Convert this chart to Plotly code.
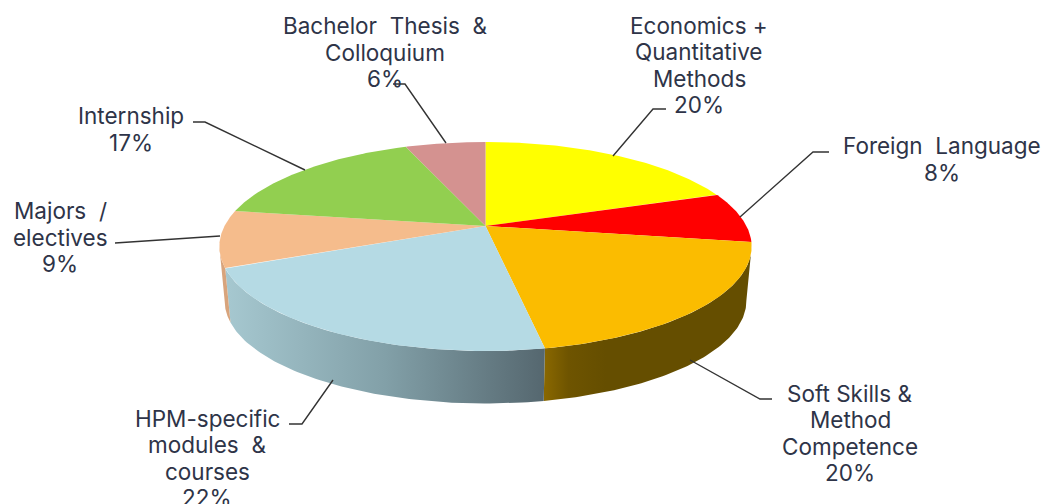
import numpy as np
import plotly.graph_objects as go

categories = ["Economics +<br>Quantitative<br>Methods", "Foreign  Language", "Soft Skills &<br>Method<br>Competence",
              "HPM-specific<br>modules  &<br>courses", "Majors  /<br>electives", "Internship",
              "Bachelor  Thesis  &<br>Colloquium"]
values = [20, 8, 20, 22, 9, 17, 6]
top_colors = ["#FFFF00", "#FF0000", "#FBBC00", "#B5DAE4", "#F5BC8C", "#92CF50", "#D49290"]
side_scales = [
    [[0, "#999900"], [1, "#999900"]],
    [[0, "#990000"], [1, "#990000"]],
    [[0, "#8A6800"], [0.12, "#6E5400"], [0.3, "#654E00"], [1, "#654E00"]],
    [[0, "#A6C8D0"], [0.5, "#82A0A8"], [1, "#55676F"]],
    [[0, "#D8A47C"], [1, "#D8A47C"]],
    [[0, "#6A9A38"], [1, "#6A9A38"]],
    [[0, "#A06A68"], [1, "#A06A68"]],
]
label_pos = [(699, 65), (942, 159), (850, 433), (207, 458), (60, 237), (131, 129), (385, 52)]
leaders = [
    [(666, 109), (653, 109), (613, 156)],
    [(829, 152), (813, 152), (740, 217)],
    [(690, 360), (760, 399), (772, 399)],
    [(333, 380), (302, 424), (289, 424)],
    [(220, 236), (115, 243)],
    [(193, 122), (205, 122), (305, 170)],
    [(393, 84), (405, 84), (446, 143)],
]

CX, CY, W, S, A = 485.5, 226.0, 261.0, 100.5, 0.196
BOTTOM_SCALE, DEPTH = 0.98, 55.0
LINE_STEP = 26.5
FONT = dict(family="Inter", size=22.5, color="#2E3448")


def top_pt(theta):
    u, v = np.sin(theta), -np.cos(theta)
    d = 1 - A * v
    return CX + W * u / d, CY + S * v / d


def bottom_pt(theta):
    x, y = top_pt(theta)
    return CX + (x - CX) * BOTTOM_SCALE, CY + (y - CY) * BOTTOM_SCALE + DEPTH


fractions = np.array(values, dtype=float) / sum(values)
edges = np.concatenate([[0], np.cumsum(fractions)]) * 2 * np.pi
vis_lo = np.pi - np.arccos(A)
vis_hi = 2 * np.pi - vis_lo

fig = go.Figure()
for i in range(len(values)):
    lo, hi = max(edges[i], vis_lo), min(edges[i + 1], vis_hi)
    if hi > lo:
        t = np.linspace(lo, hi, 80)
        xt, yt = top_pt(t)
        xb, yb = bottom_pt(t[::-1])
        fig.add_trace(go.Scatter(
            x=np.r_[xt, xb, xt[0]], y=np.r_[yt, yb, yt[0]], mode="lines", line=dict(width=0),
            fill="toself", fillgradient=dict(type="horizontal", colorscale=side_scales[i]),
            hoverinfo="skip", showlegend=False))
for i in range(len(values)):
    t = np.linspace(edges[i], edges[i + 1], 120)
    x, y = top_pt(t)
    fig.add_trace(go.Scatter(
        x=np.r_[CX, x, CX], y=np.r_[CY, y, CY], mode="lines", line=dict(width=0),
        fill="toself", fillcolor=top_colors[i], name=categories[i].replace("<br>", " "),
        hoverinfo="name", showlegend=False))

for pts in leaders:
    path = "M " + " L ".join(f"{x},{y}" for x, y in pts)
    fig.add_shape(type="path", path=path, xref="x", yref="y", line=dict(color="#333333", width=1.4), layer="above")

for cat, val, (x, y) in zip(categories, values, label_pos):
    lines = cat.split("<br>") + [f"{val}%"]
    for k, line in enumerate(lines):
        fig.add_annotation(x=x, y=y + (k - (len(lines) - 1) / 2) * LINE_STEP, xref="x", yref="y", text=line,
                           showarrow=False, xanchor="center", yanchor="middle", align="center", font=FONT)

fig.update_layout(
    width=1050, height=504, margin=dict(l=0, r=0, t=0, b=0), autosize=False,
    paper_bgcolor="white", plot_bgcolor="white", showlegend=False,
    xaxis=dict(range=[0, 1050], visible=False, fixedrange=True),
    yaxis=dict(range=[504, 0], visible=False, fixedrange=True),
)
fig.write_html("out.html", config={"displayModeBar": False},
               post_script="document.body.style.margin='0';document.documentElement.style.overflow='hidden';")
